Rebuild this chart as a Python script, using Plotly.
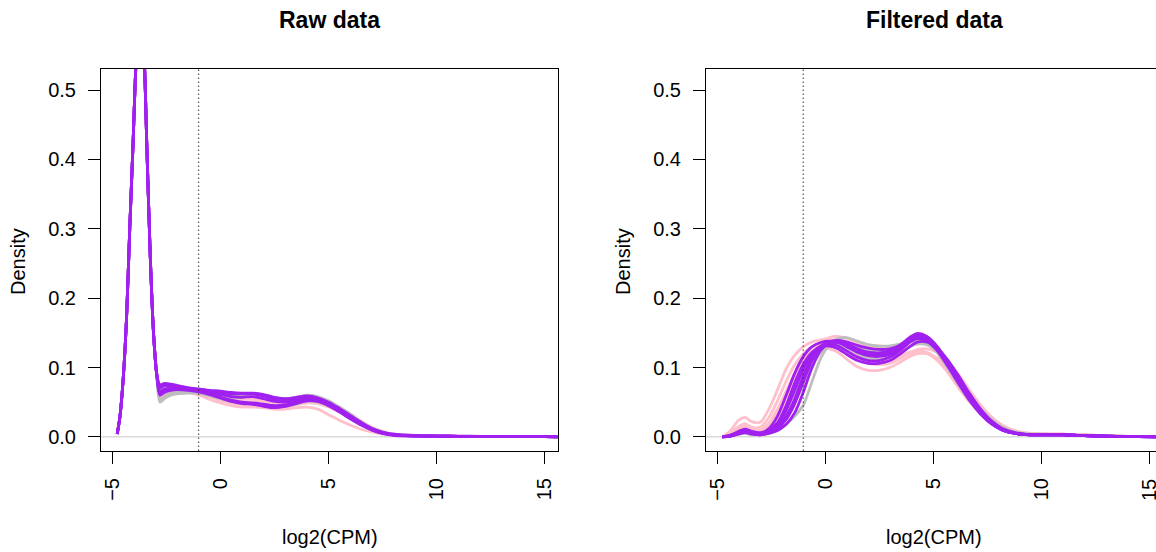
import plotly.graph_objects as go

# ---------------- data ----------------
x_ticks = [-5, 0, 5, 10, 15]
x_tick_text = ["\u22125", "0", "5", "10", "15"]
y_ticks = [0.0, 0.1, 0.2, 0.3, 0.4, 0.5]
y_tick_text = ["0.0", "0.1", "0.2", "0.3", "0.4", "0.5"]
cutoff = -1.01
panel_titles = ["Raw data", "Filtered data"]
x_title = "log2(CPM)"
y_title = "Density"

# Raw data: common sharp peak + per-sample plateau/tail
raw_peak_x = [-4.78, -4.65, -4.5, -4.35, -4.2, -4.05, -3.9, -3.72, -3.55, -3.4, -3.25, -3.1, -2.95]
raw_peak_y = [0.004, 0.03, 0.085, 0.17, 0.30, 0.42, 0.545, 0.62, 0.56, 0.41, 0.26, 0.15, 0.09]
raw_tail_x = [-2.8, -2.6, -2.3, -2.0, -1.5, -1.0, -0.5, 0.0, 0.5, 1.0, 1.5, 2.0, 2.5, 3.0, 3.5, 4.0,
              4.5, 5.0, 5.5, 6.0, 6.5, 7.0, 7.5, 8.0, 9.0, 10.0, 11.0, 12.0, 13.0, 14.0, 15.0, 15.6]

raw_pink = [
    [0.058, 0.062, 0.065, 0.066, 0.064, 0.060, 0.054, 0.049, 0.045, 0.043, 0.043, 0.042, 0.040, 0.040, 0.042, 0.043,
     0.040, 0.032, 0.024, 0.017, 0.011, 0.007, 0.004, 0.002, 0.001, 0.0008, 0.0006, 0.0005, 0.0004, 0.0003, 0.0002, 0.0002],
    [0.062, 0.066, 0.068, 0.068, 0.066, 0.063, 0.058, 0.053, 0.049, 0.047, 0.046, 0.044, 0.042, 0.043, 0.046, 0.049,
     0.048, 0.043, 0.036, 0.027, 0.019, 0.012, 0.007, 0.004, 0.0015, 0.001, 0.0008, 0.0006, 0.0004, 0.0003, 0.0002, 0.0002],
    [0.056, 0.061, 0.064, 0.066, 0.066, 0.064, 0.060, 0.056, 0.053, 0.051, 0.050, 0.048, 0.045, 0.045, 0.048, 0.052,
     0.053, 0.049, 0.042, 0.033, 0.023, 0.014, 0.008, 0.004, 0.002, 0.001, 0.0008, 0.0006, 0.0004, 0.0003, 0.0002, 0.0002],
    [0.064, 0.068, 0.070, 0.070, 0.069, 0.066, 0.062, 0.058, 0.055, 0.054, 0.054, 0.052, 0.049, 0.048, 0.050, 0.053,
     0.052, 0.047, 0.039, 0.030, 0.021, 0.013, 0.007, 0.004, 0.002, 0.001, 0.0008, 0.0006, 0.0004, 0.0003, 0.0002, 0.0002],
]
raw_gray = [
    [0.050, 0.055, 0.060, 0.062, 0.063, 0.063, 0.061, 0.058, 0.056, 0.057, 0.059, 0.058, 0.054, 0.053, 0.055, 0.057,
     0.055, 0.048, 0.039, 0.029, 0.019, 0.011, 0.006, 0.003, 0.0015, 0.001, 0.0008, 0.0006, 0.0004, 0.0003, 0.0002, 0.0001],
    [0.068, 0.072, 0.072, 0.071, 0.070, 0.068, 0.065, 0.063, 0.061, 0.061, 0.061, 0.059, 0.056, 0.055, 0.057, 0.060,
     0.058, 0.052, 0.043, 0.033, 0.022, 0.013, 0.007, 0.004, 0.002, 0.001, 0.0008, 0.0006, 0.0004, 0.0003, 0.0002, 0.0001],
    [0.054, 0.059, 0.063, 0.065, 0.065, 0.063, 0.059, 0.055, 0.051, 0.049, 0.048, 0.046, 0.044, 0.044, 0.047, 0.051,
     0.050, 0.045, 0.037, 0.028, 0.019, 0.011, 0.006, 0.003, 0.0015, 0.001, 0.0008, 0.0006, 0.0004, 0.0003, 0.0002, 0.0001],
]
raw_purple = [
    [0.075, 0.077, 0.076, 0.074, 0.071, 0.069, 0.067, 0.066, 0.064, 0.063, 0.063, 0.061, 0.057, 0.055, 0.057, 0.059,
     0.056, 0.049, 0.040, 0.030, 0.020, 0.012, 0.007, 0.004, 0.002, 0.0015, 0.001, 0.0007, 0.0005, 0.0003, 0.0002, 0.0001],
    [0.071, 0.074, 0.073, 0.071, 0.069, 0.068, 0.066, 0.064, 0.062, 0.062, 0.062, 0.059, 0.054, 0.053, 0.055, 0.058,
     0.056, 0.050, 0.041, 0.031, 0.021, 0.012, 0.006, 0.003, 0.0015, 0.001, 0.0008, 0.0006, 0.0004, 0.0003, 0.0002, 0.0001],
    [0.066, 0.069, 0.070, 0.070, 0.069, 0.067, 0.064, 0.061, 0.058, 0.057, 0.058, 0.055, 0.051, 0.050, 0.052, 0.055,
     0.053, 0.046, 0.037, 0.027, 0.018, 0.011, 0.006, 0.003, 0.0015, 0.001, 0.0008, 0.0006, 0.0004, 0.0003, 0.0002, 0.0001],
    [0.062, 0.066, 0.068, 0.069, 0.068, 0.066, 0.062, 0.057, 0.053, 0.050, 0.049, 0.047, 0.045, 0.046, 0.049, 0.053,
     0.052, 0.046, 0.037, 0.027, 0.018, 0.010, 0.005, 0.003, 0.0015, 0.001, 0.0008, 0.0006, 0.0004, 0.0003, 0.0002, 0.0001],
    [0.060, 0.064, 0.067, 0.068, 0.067, 0.065, 0.061, 0.056, 0.051, 0.048, 0.047, 0.044, 0.042, 0.044, 0.048, 0.052,
     0.051, 0.045, 0.036, 0.026, 0.017, 0.010, 0.005, 0.002, 0.001, 0.0008, 0.0006, 0.0005, 0.0004, 0.0003, 0.0002, 0.0001],
]

# Filtered data
filt_x = [-4.75, -4.4, -4.0, -3.7, -3.4, -3.0, -2.6, -2.2, -1.8, -1.4, -1.0, -0.6, -0.2, 0.2, 0.6, 1.0, 1.5, 2.0,
          2.5, 3.0, 3.5, 4.0, 4.3, 4.7, 5.2, 5.7, 6.2, 6.7, 7.2, 7.7, 8.2, 8.8, 9.5, 10.2, 11.0, 11.8, 12.6, 13.5,
          14.5, 15.6]
filt_pink = [
    [0.000, 0.008, 0.024, 0.028, 0.022, 0.021, 0.040, 0.068, 0.098, 0.118, 0.130, 0.137, 0.140, 0.141, 0.138, 0.130,
     0.120, 0.114, 0.112, 0.113, 0.118, 0.123, 0.124, 0.121, 0.110, 0.092, 0.070, 0.050, 0.033, 0.020, 0.011, 0.006,
     0.004, 0.004, 0.004, 0.003, 0.002, 0.001, 0.0005, 0.0002],
    [0.000, 0.005, 0.015, 0.019, 0.014, 0.014, 0.028, 0.052, 0.080, 0.104, 0.120, 0.130, 0.135, 0.136, 0.133, 0.125,
     0.113, 0.106, 0.104, 0.106, 0.113, 0.121, 0.123, 0.122, 0.113, 0.097, 0.077, 0.056, 0.037, 0.023, 0.013, 0.007,
     0.004, 0.004, 0.004, 0.003, 0.002, 0.001, 0.0005, 0.0002],
    [0.000, 0.004, 0.012, 0.015, 0.010, 0.010, 0.020, 0.040, 0.066, 0.092, 0.112, 0.124, 0.128, 0.127, 0.122, 0.112,
     0.101, 0.096, 0.096, 0.100, 0.108, 0.117, 0.120, 0.120, 0.113, 0.099, 0.080, 0.060, 0.041, 0.026, 0.015, 0.008,
     0.005, 0.004, 0.004, 0.003, 0.002, 0.001, 0.0005, 0.0002],
    [0.000, 0.002, 0.007, 0.009, 0.006, 0.006, 0.012, 0.026, 0.048, 0.075, 0.100, 0.122, 0.135, 0.143, 0.145, 0.142,
     0.136, 0.130, 0.128, 0.129, 0.133, 0.138, 0.139, 0.135, 0.122, 0.101, 0.078, 0.056, 0.037, 0.022, 0.012, 0.006,
     0.004, 0.004, 0.003, 0.003, 0.002, 0.001, 0.0005, 0.0002],
    [0.000, 0.003, 0.010, 0.013, 0.009, 0.008, 0.017, 0.034, 0.058, 0.085, 0.108, 0.123, 0.131, 0.134, 0.132, 0.126,
     0.117, 0.111, 0.109, 0.110, 0.115, 0.122, 0.126, 0.127, 0.122, 0.108, 0.089, 0.067, 0.046, 0.029, 0.017, 0.009,
     0.005, 0.004, 0.004, 0.003, 0.002, 0.001, 0.0005, 0.0002],
]
filt_gray = [
    [0.000, 0.001, 0.004, 0.005, 0.003, 0.003, 0.005, 0.010, 0.018, 0.030, 0.046, 0.080, 0.113, 0.133, 0.142, 0.143,
     0.138, 0.133, 0.131, 0.131, 0.134, 0.139, 0.140, 0.136, 0.121, 0.098, 0.074, 0.052, 0.033, 0.019, 0.010, 0.005,
     0.003, 0.003, 0.003, 0.002, 0.0015, 0.001, 0.0005, 0.0002],
    [0.000, 0.002, 0.006, 0.008, 0.005, 0.005, 0.010, 0.022, 0.040, 0.064, 0.090, 0.112, 0.126, 0.133, 0.134, 0.129,
     0.120, 0.114, 0.112, 0.114, 0.121, 0.131, 0.134, 0.133, 0.123, 0.104, 0.082, 0.060, 0.040, 0.025, 0.014, 0.007,
     0.004, 0.004, 0.003, 0.002, 0.0015, 0.001, 0.0005, 0.0002],
    [0.000, 0.002, 0.005, 0.007, 0.004, 0.004, 0.008, 0.016, 0.030, 0.050, 0.076, 0.102, 0.121, 0.131, 0.135, 0.134,
     0.129, 0.125, 0.124, 0.126, 0.131, 0.137, 0.139, 0.137, 0.126, 0.107, 0.084, 0.061, 0.041, 0.025, 0.014, 0.007,
     0.004, 0.003, 0.003, 0.002, 0.0015, 0.001, 0.0005, 0.0002],
]
filt_purple = [
    [0.000, 0.002, 0.007, 0.010, 0.007, 0.005, 0.012, 0.030, 0.060, 0.092, 0.116, 0.130, 0.136, 0.138, 0.136, 0.130,
     0.122, 0.117, 0.116, 0.119, 0.128, 0.140, 0.144, 0.141, 0.127, 0.104, 0.079, 0.055, 0.035, 0.020, 0.010, 0.005,
     0.003, 0.003, 0.003, 0.002, 0.0012, 0.0007, 0.0003, 0.0001],
    [0.000, 0.001, 0.005, 0.008, 0.005, 0.003, 0.005, 0.009, 0.018, 0.035, 0.065, 0.100, 0.125, 0.135, 0.137, 0.134,
     0.127, 0.122, 0.121, 0.124, 0.133, 0.145, 0.149, 0.145, 0.130, 0.106, 0.080, 0.055, 0.034, 0.019, 0.010, 0.005,
     0.003, 0.003, 0.003, 0.002, 0.0012, 0.0007, 0.0003, 0.0001],
    [0.000, 0.001, 0.006, 0.009, 0.006, 0.004, 0.008, 0.018, 0.038, 0.068, 0.098, 0.120, 0.131, 0.134, 0.131, 0.124,
     0.115, 0.110, 0.110, 0.115, 0.125, 0.138, 0.142, 0.139, 0.126, 0.104, 0.080, 0.056, 0.036, 0.021, 0.011, 0.005,
     0.003, 0.003, 0.003, 0.002, 0.0012, 0.0007, 0.0003, 0.0001],
    [0.000, 0.001, 0.005, 0.008, 0.005, 0.003, 0.007, 0.014, 0.030, 0.055, 0.088, 0.115, 0.130, 0.137, 0.139, 0.137,
     0.132, 0.128, 0.126, 0.127, 0.132, 0.140, 0.142, 0.138, 0.124, 0.101, 0.076, 0.052, 0.033, 0.019, 0.010, 0.005,
     0.003, 0.003, 0.003, 0.002, 0.0012, 0.0007, 0.0003, 0.0001],
    [0.000, 0.002, 0.008, 0.011, 0.008, 0.006, 0.010, 0.020, 0.045, 0.078, 0.105, 0.122, 0.130, 0.131, 0.127, 0.119,
     0.110, 0.106, 0.106, 0.110, 0.120, 0.132, 0.137, 0.137, 0.128, 0.110, 0.087, 0.062, 0.040, 0.023, 0.012, 0.006,
     0.003, 0.003, 0.003, 0.002, 0.0012, 0.0007, 0.0003, 0.0001],
    [0.000, 0.001, 0.004, 0.006, 0.004, 0.003, 0.006, 0.012, 0.025, 0.048, 0.080, 0.110, 0.128, 0.135, 0.136, 0.132,
     0.125, 0.120, 0.119, 0.122, 0.130, 0.142, 0.146, 0.143, 0.129, 0.105, 0.079, 0.054, 0.034, 0.019, 0.010, 0.005,
     0.003, 0.003, 0.003, 0.002, 0.0012, 0.0007, 0.0003, 0.0001],
]

# ---------------- styling ----------------
PINK = "#FFC0CB"
GRAY = "#BEBEBE"
PURPLE = "#A020F0"
FONT = "Liberation Sans, Arial, Helvetica, sans-serif"
W, H = 1156, 552

fig = go.Figure()


def add_line(x, y, color, xa, ya):
    fig.add_trace(go.Scatter(
        x=x, y=y, mode="lines", xaxis=xa, yaxis=ya, showlegend=False, hoverinfo="skip",
        line=dict(color=color, width=2.8, shape="spline", smoothing=0.8)))


for ys in raw_pink:
    add_line(raw_peak_x + raw_tail_x, raw_peak_y + ys, PINK, "x", "y")
for ys in raw_gray:
    add_line(raw_peak_x + raw_tail_x, raw_peak_y + ys, GRAY, "x", "y")
for ys in raw_purple:
    add_line(raw_peak_x + raw_tail_x, raw_peak_y + ys, PURPLE, "x", "y")

for ys in filt_pink:
    add_line(filt_x, ys, PINK, "x2", "y2")
for ys in filt_gray:
    add_line(filt_x, ys, GRAY, "x2", "y2")
for ys in filt_purple:
    add_line(filt_x, ys, PURPLE, "x2", "y2")

# pixel geometry of the two plot boxes
L1, R1 = 101, 558
L2, R2 = 706, 1156
TOP, BOT = 69, 451
LABEL_TOP = 477  # top of the rotated x tick labels (px)

common_x = dict(showline=True, linecolor="black", linewidth=1, ticks="outside", ticklen=12,
                tickcolor="black", tickwidth=1, tickvals=x_ticks,
                tickangle=-90, tickfont=dict(family=FONT, size=20, color="black"),
                showgrid=False, zeroline=False, fixedrange=True, ticklabelstandoff=6)
common_y = dict(showline=True, linecolor="black", linewidth=1, ticks="outside", ticklen=12,
                tickcolor="black", tickwidth=1, tickvals=y_ticks, ticktext=y_tick_text,
                tickfont=dict(family=FONT, size=20, color="black"),
                showgrid=False, zeroline=False, fixedrange=True, range=[-0.0204, 0.5304],
                domain=[1 - BOT / H, 1 - TOP / H], ticklabelstandoff=8)

# the right panel's last label sits at the page edge; it is drawn as an annotation
right_tick_text = x_tick_text[:-1] + [""]

fig.update_layout(
    width=W, height=H, margin=dict(l=0, r=0, t=0, b=0),
    paper_bgcolor="white", plot_bgcolor="white",
    xaxis=dict(common_x, ticktext=x_tick_text, domain=[L1 / W, R1 / W], range=[-5.53, 15.62],
               mirror=True, anchor="y"),
    yaxis=dict(common_y, mirror=True, anchor="x"),
    xaxis2=dict(common_x, ticktext=right_tick_text, domain=[L2 / W, R2 / W], range=[-5.51, 15.32],
                mirror=True, anchor="y2"),
    yaxis2=dict(common_y, mirror=False, anchor="x2"),
)

shapes = []
for xr, yr in (("x", "y"), ("x2", "y2")):
    shapes.append(dict(type="line", xref=xr + " domain", x0=0, x1=1, yref=yr, y0=0, y1=0,
                       line=dict(color="#C8C8C8", width=1), layer="below"))
    shapes.append(dict(type="line", xref=xr, x0=cutoff, x1=cutoff, yref=yr + " domain", y0=0, y1=1,
                       line=dict(color="#333333", width=1, dash="1.5px,2.5px"), layer="above"))
fig.update_layout(shapes=shapes)

ann = []
for (l, r), title in zip(((L1, R1), (L2, 1162)), panel_titles):
    cx = (l + r) / 2
    ann.append(dict(text="<b>%s</b>" % title, x=cx / W, y=1 - 20 / H, xref="paper", yref="paper",
                    showarrow=False, xanchor="center", yanchor="middle",
                    font=dict(family=FONT, size=23, color="black")))
    ann.append(dict(text=x_title, x=cx / W, y=1 - 537 / H, xref="paper", yref="paper",
                    showarrow=False, xanchor="center", yanchor="middle",
                    font=dict(family=FONT, size=20, color="black")))
    ann.append(dict(text=y_title, x=(l - 83) / W, y=1 - 262 / H, xref="paper", yref="paper",
                    showarrow=False, xanchor="center", yanchor="middle", textangle=-90,
                    font=dict(family=FONT, size=20, color="black")))
ann.append(dict(text=x_tick_text[-1], x=x_ticks[-1], xref="x2", y=1 - LABEL_TOP / H, yref="paper",
                showarrow=False, xanchor="center", yanchor="top", textangle=-90,
                font=dict(family=FONT, size=20, color="black")))
fig.update_layout(annotations=ann)

fig.write_html("out.html")
